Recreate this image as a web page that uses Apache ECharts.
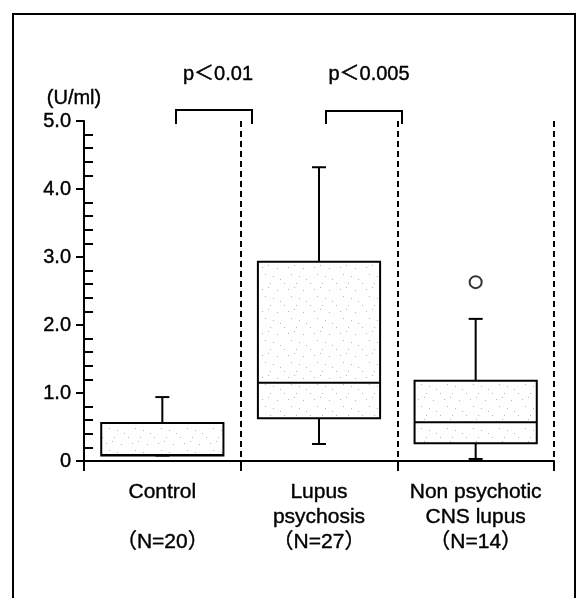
<!DOCTYPE html>
<html>
<head>
<meta charset="utf-8">
<script src="https://cdn.jsdelivr.net/npm/echarts@6/dist/echarts.min.js"></script>
<style>
html,body{margin:0;padding:0;background:#fff;}
#chart{width:576px;height:598px;}
</style>
</head>
<body>
<div id="chart"></div>
<script>
// ---- data ----
const categoryLine1 = ['Control', 'Lupus', 'Non psychotic'];
const categoryLine2 = ['', 'psychosis', 'CNS lupus'];
const groupSizes = ['（N=20）', '（N=27）', '（N=14）'];
const minValues = [0.08, 0.25, 0.03];
const q1Values = [0.08, 0.63, 0.26];
const medianValues = [0.09, 1.15, 0.57];
const q3Values = [0.56, 2.93, 1.18];
const maxValues = [0.94, 4.32, 2.09];
const outlierCategory = [2];
const outlierValues = [2.63];
const yTicks = [0, 1, 2, 3, 4, 5];
const pLabels = ['p＜0.01', 'p＜0.005'];
const unitLabel = '(U/ml)';

// ---- build ----
const FONT = '"Liberation Sans", Arial, "Noto Sans CJK JP", sans-serif';
const categories = categoryLine1.map((c, i) => c + '\n' + categoryLine2[i] + '\n' + groupSizes[i]);
const boxData = categories.map((c, i) => [i, minValues[i], q1Values[i], medianValues[i], q3Values[i], maxValues[i]]);
const outlierData = outlierCategory.map((c, i) => [c, outlierValues[i]]);

// stipple fill (decorative dot pattern)
const pat = document.createElement('canvas');
pat.width = 26; pat.height = 22;
const pctx = pat.getContext('2d');
pctx.fillStyle = '#ffffff';
pctx.fillRect(0, 0, 26, 22);
pctx.fillStyle = 'rgba(90,90,90,0.45)';
const dots = [[2,3],[17,4],[5,10],[13,12],[20,15],[10,19],[24,19],[8,1]];
dots.forEach(d => pctx.fillRect(d[0], d[1], 1, 1));

const chart = echarts.init(document.getElementById('chart'), null, {renderer: 'canvas'});

function renderBox(params, api) {
  const x = api.value(0);
  const pMin = api.coord([x, api.value(1)]);
  const pQ1 = api.coord([x, api.value(2)]);
  const pMed = api.coord([x, api.value(3)]);
  const pQ3 = api.coord([x, api.value(4)]);
  const pMax = api.coord([x, api.value(5)]);
  const bw = api.size([1, 0])[0] * 0.78;
  const cap = 7;
  const cx = pMed[0];
  const lineStyle = {stroke: '#000', lineWidth: 2, fill: null};
  return {
    type: 'group',
    children: [
      {type: 'line', shape: {x1: cx, y1: pQ3[1], x2: cx, y2: pMax[1]}, style: lineStyle},
      {type: 'line', shape: {x1: cx - cap, y1: pMax[1], x2: cx + cap, y2: pMax[1]}, style: lineStyle},
      {type: 'line', shape: {x1: cx, y1: pQ1[1], x2: cx, y2: pMin[1]}, style: lineStyle},
      {type: 'line', shape: {x1: cx - cap, y1: pMin[1], x2: cx + cap, y2: pMin[1]}, style: lineStyle},
      {type: 'rect', shape: {x: cx - bw / 2, y: pQ3[1], width: bw, height: pQ1[1] - pQ3[1]},
        style: {fill: {image: pat, repeat: 'repeat'}, stroke: '#000', lineWidth: 2}},
      {type: 'line', shape: {x1: cx - bw / 2, y1: pMed[1], x2: cx + bw / 2, y2: pMed[1]}, style: lineStyle}
    ]
  };
}

const txt = {textBorderColor: '#000', textBorderWidth: 0.4};

const option = {
  backgroundColor: '#ffffff',
  animation: false,
  textStyle: {fontFamily: FONT, color: '#000'},
  grid: {left: 84, right: 22, top: 121, bottom: 137, containLabel: false},
  xAxis: {
    type: 'category',
    data: categories,
    boundaryGap: true,
    axisLine: {show: true, lineStyle: {color: '#000', width: 2}},
    axisTick: {show: true, alignWithLabel: false, length: 10, lineStyle: {color: '#000', width: 2}},
    axisLabel: Object.assign({fontFamily: FONT, fontSize: 21, color: '#000', lineHeight: 25, margin: 19, interval: 0}, txt),
    splitLine: {show: true, lineStyle: {color: '#000', width: 2, type: [6, 4]}}
  },
  yAxis: [
    {
      type: 'value', min: yTicks[0], max: yTicks[yTicks.length - 1], interval: 1,
      position: 'left',
      axisLine: {show: true, lineStyle: {color: '#000', width: 2}},
      axisTick: {show: true, length: 8, lineStyle: {color: '#000', width: 2}},
      axisLabel: Object.assign({fontFamily: FONT, fontSize: 20, color: '#000', margin: 13,
        formatter: v => v === 0 ? '0' : v.toFixed(1)}, txt),
      splitLine: {show: false}
    },
    {
      type: 'value', min: yTicks[0], max: yTicks[yTicks.length - 1], interval: 1,
      position: 'left', offset: 0,
      axisLine: {show: false},
      axisTick: {show: false, inside: true},
      minorTick: {show: true, splitNumber: 5, length: 9, lineStyle: {color: '#000', width: 2}},
      axisLabel: {show: false},
      splitLine: {show: false}
    }
  ],
  series: [
    {
      type: 'custom',
      renderItem: renderBox,
      data: boxData,
      encode: {x: 0, y: [1, 2, 3, 4, 5]},
      z: 3
    },
    {
      type: 'scatter',
      data: outlierData,
      symbol: 'circle',
      symbolSize: 12,
      itemStyle: {color: '#fff', borderColor: '#000', borderWidth: 2},
      z: 4
    }
  ],
  graphic: [
    {type: 'rect', shape: {x: 13, y: 14, width: 562, height: 620}, style: {fill: null, stroke: '#000', lineWidth: 2}, silent: true},
    {type: 'text', x: 74, y: 98, style: Object.assign({text: unitLabel, font: '20px ' + FONT, fill: '#000', align: 'center', verticalAlign: 'middle'}, {stroke: '#000', lineWidth: 0.4})},
    {type: 'text', x: 218, y: 74, style: Object.assign({text: pLabels[0], font: '20px ' + FONT, fill: '#000', align: 'center', verticalAlign: 'middle'}, {stroke: '#000', lineWidth: 0.4})},
    {type: 'text', x: 369, y: 74, style: Object.assign({text: pLabels[1], font: '20px ' + FONT, fill: '#000', align: 'center', verticalAlign: 'middle'}, {stroke: '#000', lineWidth: 0.4})},
    {type: 'polyline', shape: {points: [[176, 124], [176, 110], [252, 110], [252, 124]]}, style: {stroke: '#000', lineWidth: 2, fill: null}},
    {type: 'polyline', shape: {points: [[326, 124], [326, 111], [402, 111], [402, 124]]}, style: {stroke: '#000', lineWidth: 2, fill: null}}
  ]
};
chart.setOption(option);
</script>
</body>
</html>
